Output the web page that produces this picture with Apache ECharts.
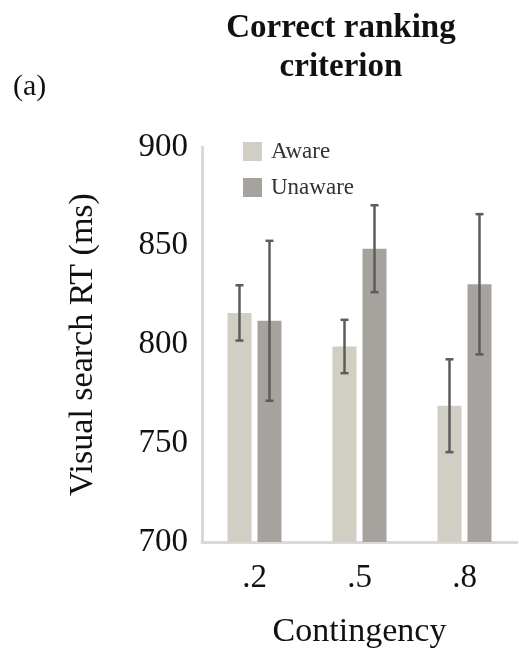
<!DOCTYPE html>
<html>
<head>
<meta charset="utf-8">
<script src="https://cdn.jsdelivr.net/npm/echarts@6/dist/echarts.min.js"></script>
<style>
  html, body { margin: 0; padding: 0; background: #fff; }
  #chart { width: 519px; height: 650px; }
</style>
</head>
<body>
<div id="chart"></div>
<script>
// Contingency levels and mean visual search RT (ms) with error bars
const categories = ['.2', '.5', '.8'];
const awareMeans = [816, 799, 769];
const awareErrors = [14, 13.5, 23.5];
const unawareMeans = [812, 848.5, 830.5];
const unawareErrors = [40.5, 22, 35.5];
const yTicks = [700, 750, 800, 850, 900];

const FONT = '"Liberation Serif", "DejaVu Serif", serif';
const BAR_W = 24;
const BAR_GAP = 6;

const chart = echarts.init(document.getElementById('chart'), null, { renderer: 'canvas' });

function errorSeries(name, means, errs, side) {
  return {
    type: 'custom',
    name: name + ' error',
    z: 5,
    silent: true,
    data: means.map((m, i) => [i, m - errs[i], m + errs[i]]),
    renderItem: function (params, api) {
      const shift = side * (BAR_W + BAR_GAP) / 2;
      const lo = api.coord([api.value(0), api.value(1)]);
      const hi = api.coord([api.value(0), api.value(2)]);
      const x = lo[0] + shift;
      const cap = 4;
      const style = { stroke: '#5c5c5c', lineWidth: 2.5 };
      return {
        type: 'group',
        children: [
          { type: 'line', shape: { x1: x, y1: lo[1], x2: x, y2: hi[1] }, style: style },
          { type: 'line', shape: { x1: x - cap, y1: lo[1], x2: x + cap, y2: lo[1] }, style: style },
          { type: 'line', shape: { x1: x - cap, y1: hi[1], x2: x + cap, y2: hi[1] }, style: style }
        ]
      };
    }
  };
}

chart.setOption({
  animation: false,
  backgroundColor: '#ffffff',
  title: [
    {
      text: 'Correct ranking\ncriterion',
      left: 336,
      top: 4,
      textAlign: 'center',
      textStyle: { fontFamily: FONT, fontWeight: 'bold', fontSize: 33, lineHeight: 39, color: '#111' }
    },
    {
      text: '(a)',
      left: 8,
      top: 67,
      textStyle: { fontFamily: FONT, fontWeight: 'normal', fontSize: 30, color: '#111' }
    }
  ],
  legend: {
    orient: 'vertical',
    left: 238,
    top: 135,
    itemWidth: 19,
    itemHeight: 19,
    itemGap: 13,
    icon: 'rect',
    data: ['Aware', 'Unaware'],
    textStyle: { fontFamily: FONT, fontSize: 23, color: '#333', padding: [0, 0, 0, 4] }
  },
  grid: { left: 202, right: 2, top: 147, bottom: 108, containLabel: false, outerBoundsMode: 'none' },
  xAxis: {
    type: 'category',
    data: categories,
    name: 'Contingency',
    nameLocation: 'middle',
    nameGap: 73,
    nameTextStyle: { fontFamily: FONT, fontSize: 34, color: '#111' },
    axisLine: { show: true, lineStyle: { color: '#d9d9d9', width: 3 } },
    axisTick: { show: false },
    axisLabel: { fontFamily: FONT, fontSize: 33, color: '#111', margin: 20 }
  },
  yAxis: {
    type: 'value',
    min: yTicks[0],
    max: yTicks[yTicks.length - 1],
    interval: yTicks[1] - yTicks[0],
    name: 'Visual search RT (ms)',
    nameLocation: 'middle',
    nameGap: 102,
    nameTextStyle: { fontFamily: FONT, fontSize: 34, color: '#111' },
    axisLine: { show: true, lineStyle: { color: '#d9d9d9', width: 3 } },
    axisTick: { show: false },
    splitLine: { show: false },
    axisLabel: { fontFamily: FONT, fontSize: 33, color: '#111', margin: 14 }
  },
  series: [
    {
      name: 'Aware',
      type: 'bar',
      data: awareMeans,
      barWidth: BAR_W,
      barGap: (BAR_GAP / BAR_W * 100) + '%',
      itemStyle: { color: '#d1cec4' }
    },
    {
      name: 'Unaware',
      type: 'bar',
      data: unawareMeans,
      barWidth: BAR_W,
      itemStyle: { color: '#a6a39e' }
    },
    errorSeries('Aware', awareMeans, awareErrors, -1),
    errorSeries('Unaware', unawareMeans, unawareErrors, 1)
  ]
});
</script>
</body>
</html>
